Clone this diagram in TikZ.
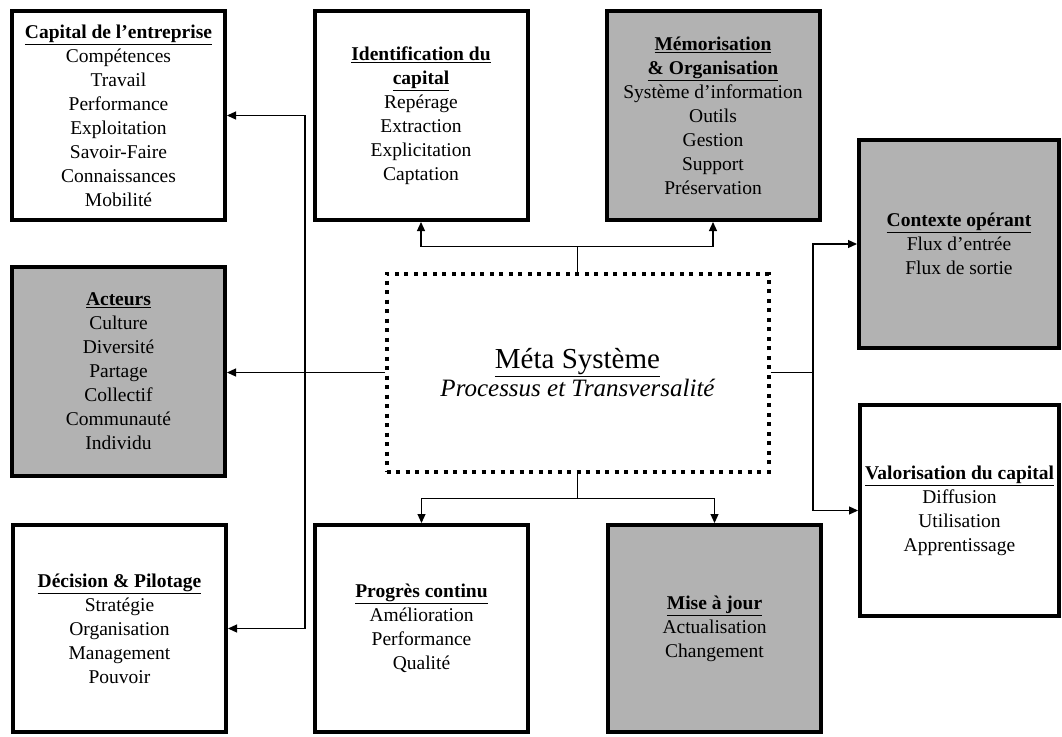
\documentclass[tikz,border=0pt]{standalone}
\usepackage{fontspec}
\setmainfont{Liberation Serif}
\usetikzlibrary{arrows.meta}
\definecolor{boxgrey}{HTML}{B2B2B2}
\tikzset{
  box/.style={draw, line width=4pt, minimum width=213pt, minimum height=209pt,
    align=center, inner sep=0pt, font=\fontsize{19.5}{24}\selectfont},
  greybox/.style={box, fill=boxgrey},
  metabox/.style={draw, line width=4pt, dash pattern=on 4pt off 5.5pt,
    minimum width=382pt, minimum height=198pt, align=center, inner sep=0pt},
  link/.style={line width=1.2pt, -{Triangle[length=9pt,width=8pt]}},
}
\newcommand{\boxtitle}[1]{\underline{\textbf{#1}}}
\begin{document}
\begin{tikzpicture}[x=1pt,y=-1pt]
  \clip (0,0) rectangle (1062,736);
  \fill[white] (0,0) rectangle (1062,736);
  % boxes
  \node[box] (cap) at (118.5,115.5) {\boxtitle{Capital de l’entreprise}\\Compétences\\Travail\\Performance\\Exploitation\\Savoir-Faire\\Connaissances\\Mobilité};
  \node[box] (ident) at (421,115.5) {\boxtitle{Identification du}\\\boxtitle{capital}\\Repérage\\Extraction\\Explicitation\\Captation};
  \node[greybox] (memo) at (713,115.5) {\boxtitle{Mémorisation}\\\boxtitle{\& Organisation}\\Système d’information\\Outils\\Gestion\\Support\\Préservation};
  \node[greybox, minimum width=200pt, minimum height=208pt] (ctx) at (959,244) {\boxtitle{Contexte opérant}\\Flux d’entrée\\Flux de sortie};
  \node[greybox] (act) at (118.5,371.5) {\boxtitle{Acteurs}\\Culture\\Diversité\\Partage\\Collectif\\Communauté\\Individu};
  \node[metabox] (meta) at (577.5,372.5) {{\fontsize{29}{33}\selectfont\underline{Méta Système}}\\[2pt]{\fontsize{25}{30}\selectfont\itshape Processus et Transversalité}};
  \node[box, minimum width=199pt, minimum height=211pt] (valo) at (959.5,510.5) {\boxtitle{Valorisation du capital}\\Diffusion\\Utilisation\\Apprentissage};
  \node[box, minimum height=207pt] (dec) at (119.5,628.5) {\boxtitle{Décision \& Pilotage}\\Stratégie\\Organisation\\Management\\Pouvoir};
  \node[box, minimum height=207pt] (prog) at (421.5,628.5) {\boxtitle{Progrès continu}\\Amélioration\\Performance\\Qualité};
  \node[greybox, minimum height=207pt] (maj) at (714.5,628.5) {\boxtitle{Mise à jour}\\Actualisation\\Changement};
  % connectors
  \coordinate (lsplit) at (305,372.5);
  \draw[link] (meta.west) -- (meta.west -| act.east);
  \draw[link] (lsplit) |- (cap.east);
  \draw[link] (lsplit) |- (dec.east);
  \draw[line width=1.2pt] (meta.north) -- ++(0,-25) coordinate (tsplit);
  \draw[link] (tsplit) -| (ident.south);
  \draw[link] (tsplit) -| (memo.south);
  \draw[line width=1.2pt] (meta.south) -- ++(0,25) coordinate (bsplit);
  \draw[link] (bsplit) -| (prog.north);
  \draw[link] (bsplit) -| (maj.north);
  \draw[line width=1.2pt] (meta.east) -- (813,372.5) coordinate (rsplit);
  \draw[link] (rsplit) |- (ctx.west);
  \draw[link] (rsplit) |- (valo.west);
\end{tikzpicture}
\end{document}
